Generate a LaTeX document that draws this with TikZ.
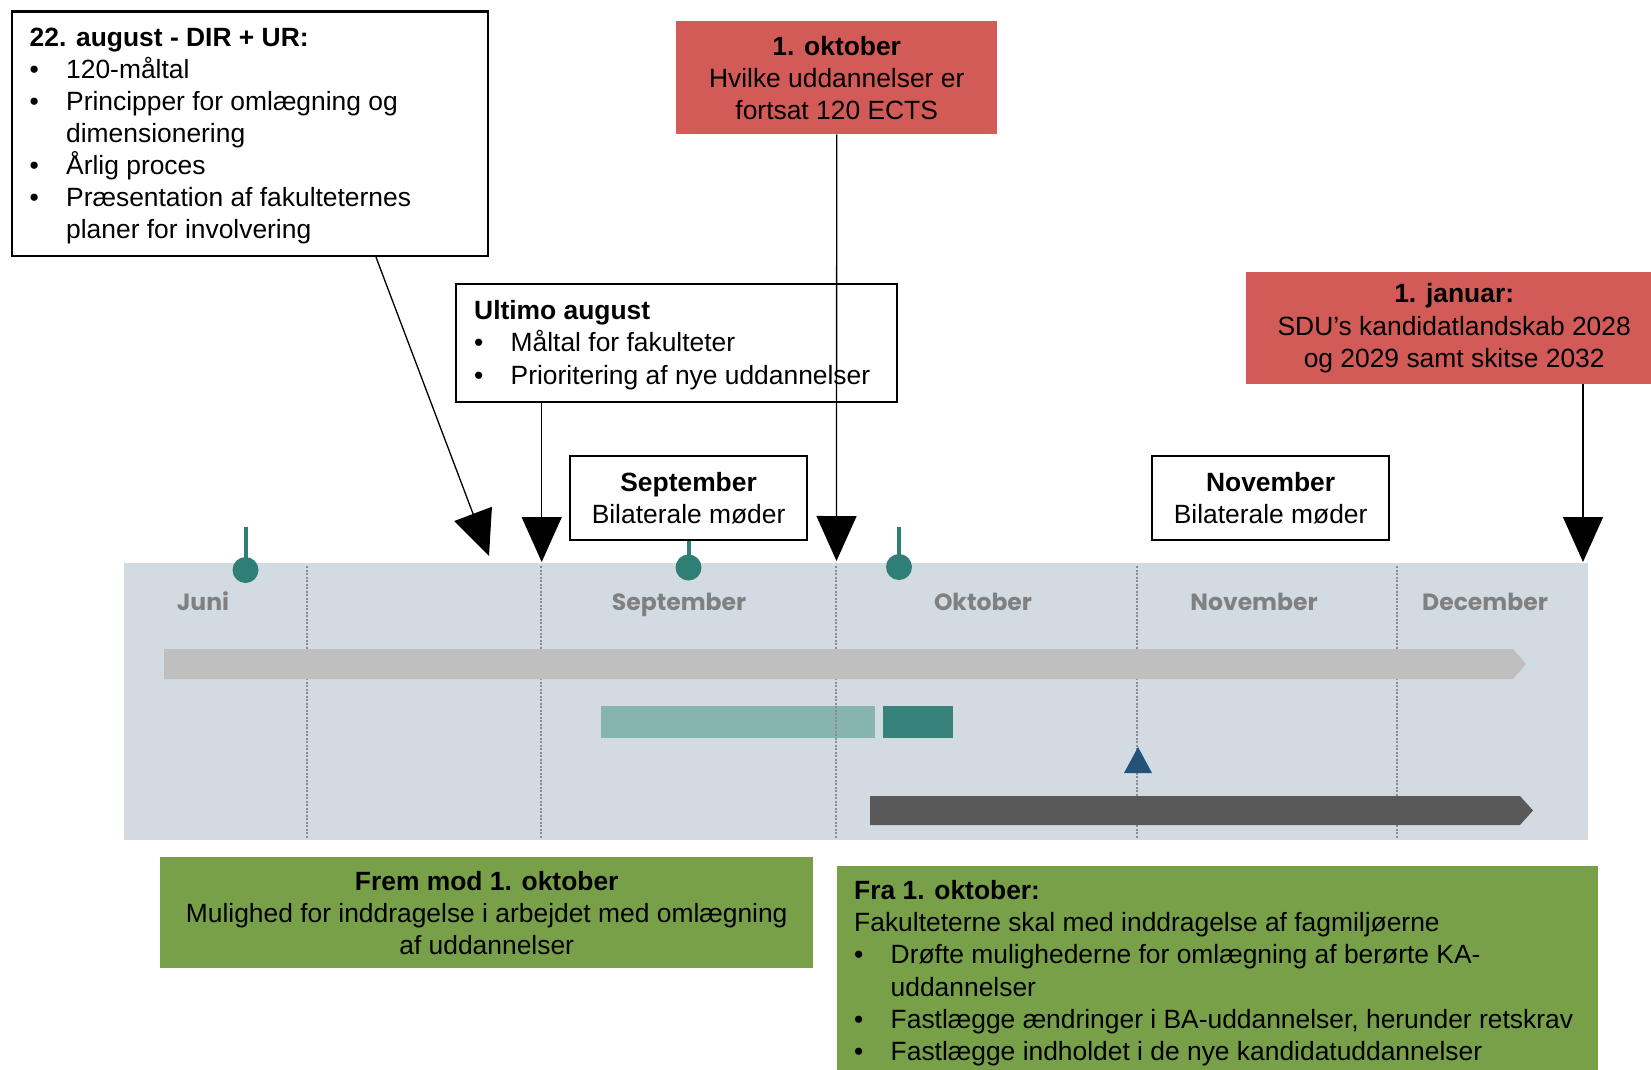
\documentclass[tikz,border=0pt]{standalone}
\usepackage{fontspec}
\setmainfont{Liberation Sans}
\newfontfamily\monthfont{Poppins}
\usetikzlibrary{arrows.meta}
\definecolor{tlbg}{HTML}{D3DBE2}
\definecolor{boxred}{HTML}{D25B58}
\definecolor{boxgreen}{HTML}{77A049}
\definecolor{gridgrey}{HTML}{8C8C8C}
\definecolor{monthgrey}{HTML}{808080}
\definecolor{pinteal}{HTML}{2F7F76}
\definecolor{lteal}{HTML}{88B4AF}
\definecolor{dteal}{HTML}{37827A}
\definecolor{bargrey}{HTML}{BFBFBF}
\definecolor{bardark}{HTML}{595959}
\definecolor{trinavy}{HTML}{24537A}
\newcommand\bodyfont{\fontsize{26.4}{32.1}\selectfont}
\newcommand\bl{\makebox[36.5pt][l]{•}}
\newcommand\ind{\hspace*{36.5pt}}
\begin{document}
\begin{tikzpicture}[x=1pt,y=-1pt,
  frame/.style={draw=black, line width=2.2pt, fill=white, inner sep=0pt, anchor=north west},
  cframe/.style={frame, align=center, font=\bodyfont},
  redbox/.style={fill=boxred, inner sep=0pt, anchor=north west, align=center, font=\bodyfont},
  greenbox/.style={fill=boxgreen, inner sep=0pt, anchor=north west, align=center, font=\bodyfont},
  ltxt/.style={anchor=west, align=left, inner sep=0pt, font=\bodyfont, yshift=-2pt},
  bigarrow/.style={line width=1.3pt, -{Triangle[length=45pt,width=40pt]}},
  month/.style={font=\monthfont\bfseries\fontsize{23.5}{26}\selectfont, text=monthgrey, inner sep=0pt, anchor=base},
  gridline/.style={draw=gridgrey, line width=2pt, dash pattern=on 2pt off 1.5pt},
  pinstem/.style={draw=pinteal, line width=4pt},
  pinhead/.style={circle, fill=pinteal, minimum size=26pt, inner sep=0pt},
]
\useasboundingbox (0,0) rectangle (1651,1070);
\fill[white] (0,0) rectangle (1651,1070);

% timeline background
\fill[tlbg] (124,563) rectangle (1588,840);
% teal bars
\fill[lteal] (601,706) rectangle (875,738);
\fill[dteal] (883,706) rectangle (953,738);
% grid lines
\foreach \gx in {307,541,836,1137,1397}
  \draw[gridline] (\gx,566) -- (\gx,838);
% grey arrow bar
\fill[bargrey] (164,649) -- (1513,649) -- (1526,664) -- (1513,679) -- (164,679) -- cycle;
% dark arrow bar
\fill[bardark] (870,796) -- (1520,796) -- (1533,810.5) -- (1520,825) -- (870,825) -- cycle;
% milestone triangle
\fill[trinavy] (1138,747) -- (1152,773) -- (1124,773) -- cycle;
% pins
\draw[pinstem] (245.5,527) -- (245.5,568);
\node[pinhead] (pin1) at (245.5,570) {};
\draw[pinstem] (688.5,535) -- (688.5,565);
\node[pinhead] (pin2) at (688.5,567.5) {};
\draw[pinstem] (899,527) -- (899,565);
\node[pinhead] (pin3) at (899,567) {};
% month labels
\node[month] (mjun) at (203,610) {Juni};
\node[month] (msep) at (679,610) {September};
\node[month] (mokt) at (983,610) {Oktober};
\node[month] (mnov) at (1254,610) {November};
\node[month] (mdec) at (1485,610) {December};

% box 1
\node[frame, minimum width=476pt, minimum height=244.5pt] (box1) at (10.5,10.5) {};
\node[ltxt] (box1t) at ([xshift=19pt]box1.west) {\textbf{22. august - DIR + UR:}\\
\bl 120-måltal\\
\bl Principper for omlægning og\\
\ind dimensionering\\
\bl Årlig proces\\
\bl Præsentation af fakulteternes\\
\ind planer for involvering};

% box 2 (red)
\node[redbox, minimum width=321pt, minimum height=113pt] (box2) at (676,21) {\textbf{1. oktober}\\Hvilke uddannelser er\\fortsat 120 ECTS};

% box 3
\node[frame, minimum width=441pt, minimum height=118pt] (box3) at (455,283) {};
\node[ltxt] (box3t) at ([xshift=19pt]box3.west) {\textbf{Ultimo august}\\
\bl Måltal for fakulteter\\
\bl Prioritering af nye uddannelser};

% box 4 (red)
\node[redbox, minimum width=416pt, minimum height=112pt] (box4) at (1246,272) {\textbf{1. januar:}\\SDU’s kandidatlandskab 2028\\og 2029 samt skitse 2032};

% box 5, 6
\node[cframe, minimum width=237pt, minimum height=84pt] (box5) at (569,455) {\textbf{September}\\Bilaterale møder};
\node[cframe, minimum width=237pt, minimum height=84pt] (box6) at (1151,455) {\textbf{November}\\Bilaterale møder};

% green boxes
\node[greenbox, minimum width=653pt, minimum height=111pt] (g1) at (160,857) {\textbf{Frem mod 1. oktober}\\Mulighed for inddragelse i arbejdet med omlægning\\af uddannelser};
\node[greenbox, minimum width=761pt, minimum height=210pt] (g2) at (837,866) {};
\node[ltxt] (g2t) at ([xshift=17pt]g2.west) {\textbf{Fra 1. oktober:}\\
Fakulteterne skal med inddragelse af fagmiljøerne\\
\bl Drøfte mulighederne for omlægning af berørte KA-\\
\ind uddannelser\\
\bl Fastlægge ændringer i BA-uddannelser, herunder retskrav\\
\bl Fastlægge indholdet i de nye kandidatuddannelser};

% arrows
\coordinate (t1) at (489,556);
\coordinate (t2) at (541.7,562);
\coordinate (t3) at (836.5,561);
\coordinate (t4) at (1583,562);
\draw[bigarrow] ([xshift=365.5pt]box1.south west) -- (t1);
\draw[bigarrow] ([xshift=86.7pt]box3.south west) -- (t2);
\draw[bigarrow] (box2.south) -- (t3);
\draw[bigarrow] ([xshift=337pt]box4.south west) -- (t4);
\end{tikzpicture}
\end{document}
